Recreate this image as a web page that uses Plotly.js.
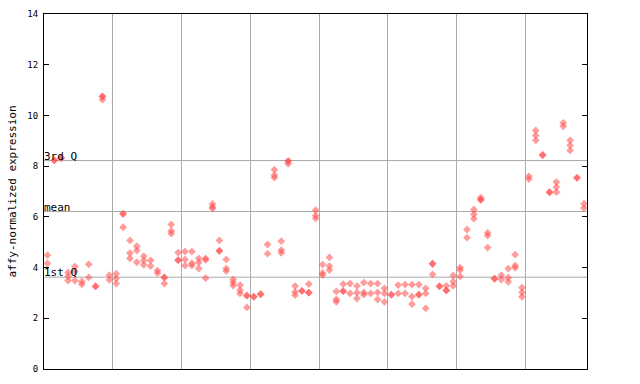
<!DOCTYPE html>
<html><head><meta charset="utf-8">
<script src="https://cdn.plot.ly/plotly-3.0.1.min.js"></script>
<style>html,body{margin:0;padding:0;background:#fff}#chart{width:640px;height:384px}</style>
</head><body><div id="chart"></div>
<script>
// expression values per sample column (overlapping points listed repeatedly)
const sampleValues = [
  [4.49,4.16],[8.23,8.23],[8.32,8.32],[3.81,3.65,3.49],[4.04,3.85,3.49],
  [3.45,3.34],[4.13,3.61],[3.26,3.26],[10.75,10.75,10.62],[3.70,3.52],
  [3.76,3.57,3.37],[6.12,6.12,5.59],[5.07,4.57,4.36],[4.84,4.67,4.21],[4.45,4.28,4.11],
  [4.28,4.06],[3.88,3.78],[3.61,3.61,3.37],[5.70,5.45,5.34],[4.59,4.29,4.29],
  [4.63,4.32,4.08],[4.63,4.17,4.08],[4.36,4.20,3.96],[4.36,4.30,3.58],[6.51,6.39,6.33],
  [5.07,4.66,4.66],[4.32,3.96,3.86],[3.53,3.41,3.29],[3.31,3.11,2.98],[2.89,2.89,2.43],
  [2.85,2.85],[2.95,2.95],[4.91,4.55],[7.86,7.64,7.55],[5.04,4.69,4.58],
  [8.20,8.20,8.09],[3.27,3.04,2.91],[3.08,3.08],[3.35,3.01,3.01],[6.26,6.05,5.94],
  [4.12,3.79,3.70],[4.40,4.06,3.90],[3.06,2.74,2.65],[3.35,3.07,3.07],[3.37,2.98],
  [3.27,3.01,2.78],[3.41,3.02,2.93],[3.37,2.98],[3.37,3.02,2.74],[3.18,2.98,2.65],
  [2.93,2.93],[3.31,2.98],[3.33,2.98],[3.33,2.86,2.56],[3.33,2.93,2.93],
  [3.18,2.98,2.39],[4.15,4.15,3.73],[3.26,3.26],[3.28,3.10,3.10],[3.69,3.45,3.28],
  [4.00,3.90,3.65],[5.50,5.18],[6.29,6.10,5.93],[6.76,6.67,6.67],[5.37,5.26,4.79],
  [3.56,3.56],[3.70,3.53],[3.96,3.60,3.44],[4.51,4.08,3.99],[3.21,3.02,2.85],
  [7.60,7.49],[9.41,9.21,9.02],[8.44,8.44],[6.97,6.97],[7.37,7.18,6.98],
  [9.71,9.57],[9.02,8.82,8.62],[7.54,7.54],[6.52,6.35]
];
const groupBoundaries = [10.5,20.5,30.5,40.5,50.5,60.5,70.5];
const refLevels = [8.22, 6.21, 3.62];
const refLabels = ["3rd Q", "mean", "1st Q"];
const yTicks = [0,2,4,6,8,10,12,14];

const xs = [], ys = [];
sampleValues.forEach((vals, i) => vals.forEach(v => { xs.push(i + 1); ys.push(v); }));

const mono = "DejaVu Sans Mono, monospace";
const trace = {
  type: "scatter", mode: "markers", x: xs, y: ys,
  marker: {symbol: "diamond", size: 6, color: "#ff4d4d", opacity: 0.55, line: {width: 0}},
  hoverinfo: "skip", showlegend: false
};

const shapes = refLevels.map(v => ({
  type: "line", xref: "paper", x0: 0, x1: 1, yref: "y", y0: v, y1: v,
  line: {color: "#aaaaaa", width: 1}, layer: "below"
}));
const annotations = refLevels.map((v, i) => ({
  xref: "paper", x: 0, xanchor: "left", yref: "y", y: v, yanchor: "bottom",
  text: refLabels[i], showarrow: false, font: {family: mono, size: 11, color: "#000"},
  xshift: -2, yshift: -4
}));

const layout = {
  width: 640, height: 384,
  margin: {l: 44, r: 53, t: 14, b: 15},
  paper_bgcolor: "#fff", plot_bgcolor: "#fff",
  font: {family: mono, size: 9, color: "#000"},
  xaxis: {
    range: [0.5, 79.45], tickvals: groupBoundaries, showticklabels: false, ticks: "",
    showgrid: true, gridcolor: "#aaaaaa", gridwidth: 1, zeroline: false,
    showline: true, linecolor: "#000", linewidth: 1, mirror: true
  },
  yaxis: {
    range: [0, 14], tickvals: yTicks, ticks: "inside", ticklen: 5, tickcolor: "#000",
    showgrid: false, zeroline: false, showline: true, linecolor: "#000", linewidth: 1,
    mirror: "ticks", ticklabelstandoff: 3,
    tickfont: {family: mono, size: 9},
    title: {text: "affy-normalized expression", font: {family: mono, size: 11}, standoff: 8}
  },
  shapes: shapes, annotations: annotations
};
Plotly.newPlot("chart", [trace], layout, {staticPlot: true, displayModeBar: false});
</script></body></html>
